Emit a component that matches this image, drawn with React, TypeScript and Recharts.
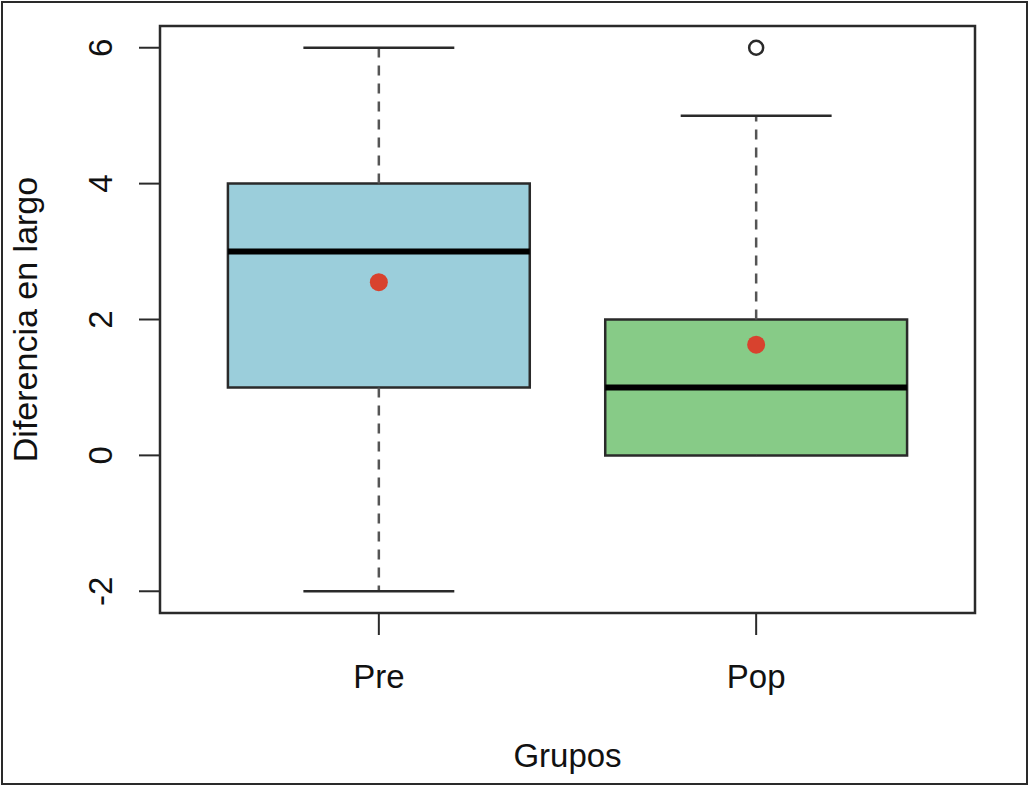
import React from 'react';
import {
  ComposedChart,
  XAxis,
  YAxis,
  Scatter,
  ReferenceArea,
  ReferenceLine,
} from 'recharts';

// group data
const groups = ['Pre', 'Pop'];
const positions = [1, 2];
const lowerWhisker = [-2, 0];
const q1 = [1, 0];
const median = [3, 1];
const q3 = [4, 2];
const upperWhisker = [6, 5];
const means = [2.55, 1.63];
const outlierGroup = [2];
const outlierValue = [6];
const boxColors = ['#9BCEDB', '#87CB87'];

const yTicks = [-2, 0, 2, 4, 6];
const xDomain = [0.42, 2.58];
const yDomain = [-2.32, 6.32];

const FONT = '"Liberation Sans", Arial, Helvetica, sans-serif';
const INK = '#2a2a2a';
const HALF_BOX = 0.4;
const HALF_CAP = 0.2;

const meanData = positions.map((x, i) => ({ x, y: means[i] }));
const outlierData = outlierGroup.map((g, i) => ({ x: g, y: outlierValue[i] }));

function YTick(props: any) {
  const { x, y, payload } = props;
  const bx = x - 27;
  return (
    <text
      x={bx}
      y={y}
      transform={`rotate(-90, ${bx}, ${y})`}
      textAnchor="middle"
      fontSize={33}
      fontFamily={FONT}
      fill="#111"
    >
      {payload.value}
    </text>
  );
}

function XTick(props: any) {
  const { x, y, payload } = props;
  return (
    <text x={x} y={y + 53} textAnchor="middle" fontSize={33} fontFamily={FONT} fill="#111">
      {groups[payload.value - 1]}
    </text>
  );
}

export default function App() {
  return (
    <div style={{ position: 'absolute', left: 0, top: 0, width: 1029, height: 786, background: '#fff' }}>
      <div
        style={{
          position: 'absolute',
          left: 1,
          top: 1,
          width: 1027,
          height: 784,
          border: `2px solid ${INK}`,
          boxSizing: 'border-box',
        }}
      />
      <ComposedChart width={1029} height={786} margin={{ top: 26, right: 54, bottom: 0, left: 0 }}>
        <XAxis
          type="number"
          dataKey="x"
          domain={xDomain}
          ticks={positions}
          allowDataOverflow
          axisLine={false}
          tickSize={22}
          tickMargin={0}
          tickLine={{ stroke: INK, strokeWidth: 2 }}
          tick={<XTick />}
          height={173}
          label={{
            value: 'Grupos',
            position: 'insideBottom',
            offset: 19,
            fontSize: 33,
            fontFamily: FONT,
            fill: '#111',
          }}
        />
        <YAxis
          type="number"
          dataKey="y"
          domain={yDomain}
          ticks={yTicks}
          allowDataOverflow
          axisLine={false}
          tickSize={21}
          tickMargin={0}
          tickLine={{ stroke: INK, strokeWidth: 2 }}
          tick={<YTick />}
          width={160}
          label={{
            value: 'Diferencia en largo',
            angle: -90,
            position: 'insideLeft',
            offset: 25,
            fontSize: 34,
            fontFamily: FONT,
            fill: '#111',
            style: { textAnchor: 'middle' },
          }}
        />

        {/* whiskers and caps */}
        {positions.map((p, i) => (
          <ReferenceLine
            key={`uw${i}`}
            segment={[{ x: p, y: q3[i] }, { x: p, y: upperWhisker[i] }]}
            stroke="#555"
            strokeWidth={2.5}
            strokeDasharray="10 8"
          />
        ))}
        {positions.map((p, i) => (
          <ReferenceLine
            key={`lw${i}`}
            segment={[{ x: p, y: q1[i] }, { x: p, y: lowerWhisker[i] }]}
            stroke="#555"
            strokeWidth={2.5}
            strokeDasharray="10 8"
          />
        ))}
        {positions.map((p, i) => (
          <ReferenceLine
            key={`uc${i}`}
            segment={[{ x: p - HALF_CAP, y: upperWhisker[i] }, { x: p + HALF_CAP, y: upperWhisker[i] }]}
            stroke={INK}
            strokeWidth={2.5}
          />
        ))}
        {positions.map((p, i) =>
          lowerWhisker[i] < q1[i] ? (
            <ReferenceLine
              key={`lc${i}`}
              segment={[{ x: p - HALF_CAP, y: lowerWhisker[i] }, { x: p + HALF_CAP, y: lowerWhisker[i] }]}
              stroke={INK}
              strokeWidth={2.5}
            />
          ) : null
        )}

        {/* boxes */}
        {positions.map((p, i) => (
          <ReferenceArea
            key={`box${i}`}
            x1={p - HALF_BOX}
            x2={p + HALF_BOX}
            y1={q1[i]}
            y2={q3[i]}
            fill={boxColors[i]}
            fillOpacity={1}
            stroke={INK}
            strokeWidth={2.5}
          />
        ))}
        {positions.map((p, i) => (
          <ReferenceLine
            key={`med${i}`}
            segment={[{ x: p - HALF_BOX, y: median[i] }, { x: p + HALF_BOX, y: median[i] }]}
            stroke="#000"
            strokeWidth={6}
          />
        ))}

        {/* plot frame */}
        <ReferenceArea
          x1={xDomain[0]}
          x2={xDomain[1]}
          y1={yDomain[0]}
          y2={yDomain[1]}
          fill="none"
          stroke={INK}
          strokeWidth={2.5}
          ifOverflow="visible"
        />

        <Scatter
          data={outlierData}
          isAnimationActive={false}
          shape={(s: any) => (
            <circle cx={s.cx} cy={s.cy} r={7} fill="#fff" stroke={INK} strokeWidth={2.5} />
          )}
        />
        <Scatter
          data={meanData}
          isAnimationActive={false}
          shape={(s: any) => <circle cx={s.cx} cy={s.cy} r={9} fill="#D8422E" />}
        />
      </ComposedChart>
    </div>
  );
}
